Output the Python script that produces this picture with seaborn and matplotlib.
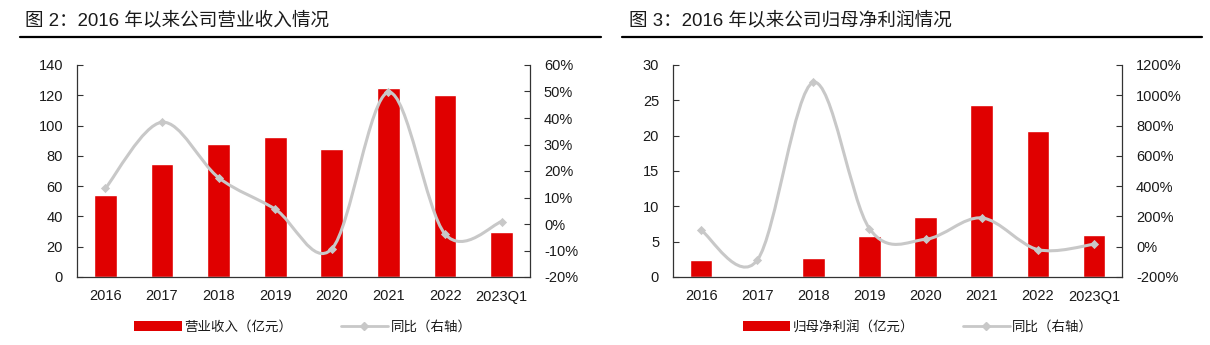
import numpy as np
import matplotlib
matplotlib.use('Agg')
import matplotlib.pyplot as plt
import seaborn as sns
from matplotlib.path import Path
from matplotlib.patches import PathPatch, Patch
from matplotlib.lines import Line2D
from matplotlib.ticker import FuncFormatter, FixedLocator

# ---------------- data ----------------
categories = ['2016', '2017', '2018', '2019', '2020', '2021', '2022', '2023Q1']
revenue = [54.2, 74.8, 87.9, 92.5, 84.2, 125.1, 120.5, 29.5]          # 亿元
revenue_yoy = [13.4, 38.4, 17.5, 5.6, -9.4, 49.7, -3.8, 0.9]           # %
profit = [2.46, 0.19, 2.65, 5.76, 8.5, 24.3, 20.6, 6.0]                # 亿元
profit_yoy = [108.7, -89.7, 1085.0, 120.0, 49.0, 190.0, -19.0, 16.0]   # %

left_title = '图 2：2016 年以来公司营业收入情况'
right_title = '图 3：2016 年以来公司归母净利润情况'
left_bar_label = '营业收入（亿元）'
right_bar_label = '归母净利润（亿元）'
line_label = '同比（右轴）'

# ---------------- style ----------------
sns.set_theme(style='white')
plt.rcParams['font.family'] = ['Liberation Sans', 'Noto Sans CJK SC', 'DejaVu Sans']
plt.rcParams['axes.unicode_minus'] = False

RED = '#E00000'
GRAY = '#C8C8C8'
SPINE = '#333333'
TXT = '#1a1a1a'
W, H = 1210, 345

fig = plt.figure(figsize=(W / 100, H / 100), dpi=100)


def smooth_path(xs, ys, t=1 / 6):
    pts = np.column_stack([xs, ys]).astype(float)
    n = len(pts)
    verts = [pts[0]]
    codes = [Path.MOVETO]
    for i in range(n - 1):
        p0 = pts[i - 1] if i > 0 else pts[i]
        p1 = pts[i]
        p2 = pts[i + 1]
        p3 = pts[i + 2] if i + 2 < n else pts[i + 1]
        c1 = p1 + (p2 - p0) * t
        c2 = p2 - (p3 - p1) * t
        verts += [c1, c2, p2]
        codes += [Path.CURVE4] * 3
    return Path(verts, codes)


def panel(rect, bars, yoy, ylim, ystep, y2lim, y2step):
    ax = fig.add_axes(rect)
    sns.barplot(x=categories, y=bars, color=RED, saturation=1, width=0.4, ax=ax)
    ax.set_xlim(-0.5, len(categories) - 0.5)
    ax.set_ylim(*ylim)
    ax.set_yticks(np.arange(ylim[0], ylim[1] + ystep / 2, ystep))
    ax.set_xlabel('')
    ax.set_ylabel('')
    ax.xaxis.set_minor_locator(FixedLocator(np.arange(0.5, len(categories) - 1, 1)))
    ax.tick_params(axis='x', which='major', length=0, pad=9, labelsize=10.5, colors=TXT)
    ax.tick_params(axis='x', which='minor', direction='in', length=4, width=0.8, color=SPINE)
    ax.tick_params(axis='y', direction='in', length=4, width=0.8, color=SPINE,
                   pad=10, labelsize=10.5, labelcolor=TXT, left=True)
    for s in ['left', 'bottom']:
        ax.spines[s].set_color(SPINE)
        ax.spines[s].set_linewidth(0.9)
    for s in ['top', 'right']:
        ax.spines[s].set_visible(False)

    ax2 = ax.twinx()
    ax2.set_ylim(*y2lim)
    ax2.set_yticks(np.arange(y2lim[0], y2lim[1] + y2step / 2, y2step))
    ax2.yaxis.set_major_formatter(FuncFormatter(lambda v, p: f'{v:.0f}%'))
    ax2.tick_params(axis='y', direction='in', length=4, width=0.8, color=SPINE,
                    pad=10, labelsize=10.5, labelcolor=TXT, right=True)
    ax2.spines['right'].set_color(SPINE)
    ax2.spines['right'].set_linewidth(0.9)
    for s in ['top', 'left', 'bottom']:
        ax2.spines[s].set_visible(False)
    xs = np.arange(len(categories))
    ax2.add_patch(PathPatch(smooth_path(xs, yoy), facecolor='none', edgecolor=GRAY,
                            lw=2.2, capstyle='round', joinstyle='round'))
    sns.scatterplot(x=xs, y=yoy, marker='D', s=22, color=GRAY, edgecolor=GRAY,
                    linewidth=0, ax=ax2, zorder=5, legend=False)
    ax2.set_ylabel('')
    ax2.grid(False)
    ax.grid(False)
    return ax, ax2


# left panel
panel([77 / W, 1 - 277 / H, 453 / W, 212 / H], revenue, revenue_yoy,
      (0, 140), 20, (-20, 60), 10)
# right panel
panel([673 / W, 1 - 277 / H, 449 / W, 212 / H], profit, profit_yoy,
      (0, 30), 5, (-200, 1200), 200)

# titles and rules
fig.text(25 / W, 1 - 21 / H, left_title, fontsize=13.4, va='center', ha='left', color=TXT)
fig.text(629 / W, 1 - 21 / H, right_title, fontsize=13.4, va='center', ha='left', color=TXT)
fig.add_artist(Line2D([20 / W, 601 / W], [1 - 37 / H] * 2, color='black', lw=1.6,
                      transform=fig.transFigure))
fig.add_artist(Line2D([622 / W, 1202 / W], [1 - 37 / H] * 2, color='black', lw=1.6,
                      transform=fig.transFigure))


def legend(cx, bar_label):
    handles = [Patch(facecolor=RED, edgecolor='none', label=bar_label),
               Line2D([0], [0], color=GRAY, lw=2, marker='D', ms=4, label=line_label)]
    fig.legend(handles=handles, loc='center', bbox_to_anchor=(cx, 1 - 327 / H), ncol=2,
               frameon=False, fontsize=9.7, handlelength=3.5, handleheight=0.8,
               handletextpad=0.2, columnspacing=3.6, labelcolor=TXT)


legend(303 / W, left_bar_label)
legend(918 / W, right_bar_label)

fig.savefig('out.png', dpi=100, facecolor='white')
